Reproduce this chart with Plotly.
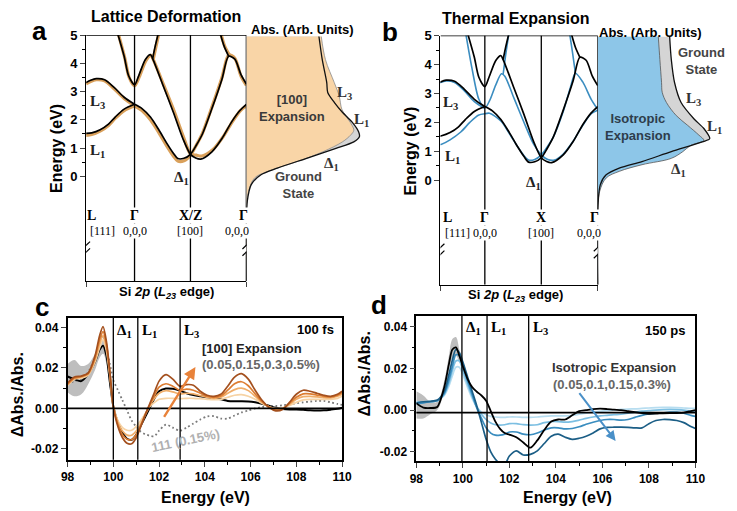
import plotly.graph_objects as go

W, H = 737, 511

def fx(p):
    return p / W

def fy(p):
    return 1 - p / H

# ------------------------------------------------------------------ data
k_points = [0.0, 0.866, 1.866, 2.866]
k_labels_a = ['L', 'Γ', 'X/Z', 'Γ']
k_labels_b = ['L', 'Γ', 'X', 'Γ']
k_sublabels = ['[111]', '0,0,0', '[100]', '0,0,0']

# ground-state conduction bands (black), k in path units, E in eV
gs_L1_k = [0, 0.1, 0.25, 0.4, 0.52, 0.68, 0.866]
gs_L1_E = [1.52, 1.54, 1.65, 1.85, 2.1, 2.38, 2.55]
gs_L3_k = [0, 0.08, 0.18, 0.33, 0.5, 0.68, 0.866]
gs_L3_E = [3.32, 3.4, 3.46, 3.42, 3.15, 2.8, 2.55]
gs_D1_k = [0.866, 1.0, 1.15, 1.3, 1.45, 1.56, 1.64, 1.75, 1.866, 1.97, 2.08, 2.25, 2.43, 2.55, 2.66, 2.77, 2.866]
gs_D1_E = [2.55, 2.4, 2.1, 1.65, 1.15, 0.82, 0.63, 0.64, 0.78, 1.1, 1.5, 2.4, 3.44, 4.25, 4.15, 3.6, 3.27]
gs_V_k = [0.565, 0.68, 0.76, 0.866, 0.94, 1.06, 1.15, 1.19, 1.38, 1.56, 1.73, 1.866, 1.96, 2.05, 2.25, 2.43, 2.6, 2.75, 2.866]
gs_V_E = [5.05, 4.25, 3.56, 3.24, 3.56, 4.14, 4.31, 4.17, 3.2, 2.27, 1.34, 0.78, 0.65, 0.61, 0.87, 1.34, 1.92, 2.33, 2.55]
gs_up1_k = [1.19, 1.235, 1.29]
gs_up1_E = [4.17, 4.6, 5.05]
gs_up2_k = [2.40, 2.47, 2.55]
gs_up2_E = [5.05, 4.6, 4.25]

# [100] expanded lattice bands (orange)
ex_L1_E = [1.45, 1.48, 1.6, 1.8, 2.05, 2.33, 2.5]
ex_L3_E = [3.27, 3.36, 3.42, 3.38, 3.1, 2.76, 2.5]
ex_D1_E = [2.5, 2.33, 2.0, 1.55, 1.05, 0.72, 0.54, 0.55, 0.75, 1.1, 1.52, 2.45, 3.5, 4.3, 4.18, 3.55, 3.22]
ex_V_k = [0.575, 0.69, 0.77, 0.866, 0.95, 1.07, 1.16, 1.2, 1.39, 1.57, 1.74, 1.866, 1.97, 2.07, 2.27, 2.45, 2.62, 2.76, 2.866]
ex_V_E = [5.05, 4.2, 3.5, 3.2, 3.52, 4.1, 4.28, 4.14, 3.22, 2.33, 1.4, 0.8, 0.75, 0.72, 0.95, 1.4, 1.95, 2.33, 2.5]
ex_up1_k = [1.2, 1.25, 1.3]
ex_up1_E = [4.14, 4.6, 5.05]
ex_up2_k = [2.41, 2.48, 2.56]
ex_up2_E = [5.05, 4.6, 4.3]

# isotropic expanded bands (blue)
iso_L1_k = [0, 0.1, 0.25, 0.44, 0.6, 0.75, 0.866]
iso_L1_E = [1.22, 1.25, 1.4, 1.67, 2.0, 2.25, 2.3]
iso_L3_E = [3.3, 3.38, 3.43, 3.38, 3.1, 2.72, 2.48]
iso_D1_k = [0.866, 0.95, 1.15, 1.3, 1.45, 1.56, 1.64, 1.75, 1.866, 1.97, 2.08, 2.25, 2.38, 2.47, 2.6, 2.75, 2.866]
iso_D1_E = [2.3, 2.32, 2.05, 1.62, 1.15, 0.85, 0.7, 0.72, 0.88, 1.15, 1.5, 2.35, 3.2, 3.7, 3.4, 2.8, 2.45]
iso_V_k = [0.53, 0.64, 0.76, 0.866, 0.95, 1.06, 1.16, 1.22, 1.38, 1.56, 1.73, 1.866, 1.98, 2.1, 2.25, 2.43, 2.6, 2.75, 2.866]
iso_V_E = [5.05, 3.85, 2.8, 2.5, 2.75, 3.3, 3.68, 3.6, 2.85, 2.0, 1.25, 0.88, 0.72, 0.7, 0.9, 1.35, 1.9, 2.3, 2.42]
iso_up1_k = [1.19, 1.24, 1.29]
iso_up1_E = [3.66, 4.4, 5.05]
iso_up2_k = [2.37, 2.42, 2.47]
iso_up2_E = [5.05, 4.4, 3.7]

# absorption (arb. units) vs energy
absA_gs_E = [4.95, 4.13, 3.32, 2.97, 2.62, 2.27, 1.92, 1.57, 1.40, 1.22, 0.99, 0.64, 0.29, 0.06, -0.29, -0.87, -1.68, -3.71]
absA_gs = [74.3, 77.7, 82.3, 83.3, 90, 98.3, 108.3, 115, 115.7, 110, 91.7, 61.7, 31.7, 15, 5, 1, 0, 0]
absA_ex_E = [4.95, 4.13, 3.32, 2.85, 2.38, 2.15, 1.80, 1.63, 1.46, 1.22, 0.87, 0.52, 0.17, -0.06, -0.53, -1.23, -3.71]
absA_ex = [76.7, 81, 90, 95, 97.7, 101.7, 108.3, 110, 106.7, 98.3, 78.3, 51.7, 21.7, 8.3, 2.3, 0, 0]
absB_gs_E = [4.96, 4.17, 3.38, 2.69, 2.12, 1.79, 1.44, 1.33, 0.99, 0.65, 0.42, 0.19, -0.15, -0.83, -3.61]
absB_gs = [73.6, 75.3, 78.6, 85.3, 98.6, 108.6, 114.6, 107, 75.3, 45.3, 22, 8.6, 2.6, 0.3, 0]
absB_iso_E = [4.96, 4.17, 3.38, 3.04, 2.69, 2.24, 1.90, 1.56, 1.38, 1.21, 0.99, 0.76, 0.54, 0.31, 0.08, -0.38, -1.06, -3.61]
absB_iso = [62, 63.6, 65.3, 66, 70.3, 80.3, 92, 103.6, 108.6, 95.3, 87, 75.3, 45.3, 22, 8.6, 2, 0, 0]

# transient spectra
energy = [98.0, 98.3, 98.6, 98.9, 99.2, 99.4, 99.55, 99.7, 99.85, 100.0, 100.2, 100.4, 100.6, 100.8,
          101.0, 101.2, 101.4, 101.6, 101.8, 102.0, 102.3, 102.6, 102.9, 103.2, 103.5, 103.8, 104.1,
          104.4, 104.7, 105.0, 105.3, 105.6, 105.9, 106.2, 106.5, 106.8, 107.1, 107.4, 107.7, 108.0,
          108.3, 108.6, 108.9, 109.2, 109.5, 109.8, 110.0]

c_exp_100fs = [0.0158, 0.0145, 0.0135, 0.017, 0.023, 0.029, 0.031, 0.026, 0.013, 0.001, -0.007, -0.012,
               -0.015, -0.0155, -0.013, -0.0085, -0.004, 0.0005, 0.005, 0.0085, 0.0098, 0.0097, 0.0088,
               0.0075, 0.0066, 0.006, 0.0055, 0.005, 0.0045, 0.0037, 0.0035, 0.0035, 0.0034, 0.003, 0.0023,
               0.0013, 0.0003, -0.0003, -0.0005, -0.0005, -0.0007, -0.0009, -0.001, -0.0009, -0.0006,
               -0.0002, 0.0003]
c_err_energy = [98.0, 98.3, 98.6, 98.9, 99.2, 99.4, 99.55, 99.7, 99.85]
c_err_hi = [0.022, 0.024, 0.021, 0.022, 0.027, 0.032, 0.034, 0.029, 0.016]
c_err_lo = [0.008, 0.006, 0.007, 0.012, 0.019, 0.025, 0.027, 0.022, 0.010]
c_x100_005 = [0.0115, 0.0145, 0.015, 0.0165, 0.023, 0.030, 0.034, 0.0285, 0.016, 0.001, -0.006, -0.0095,
              -0.0108, -0.0108, -0.009, -0.006, -0.0025, 0.001, 0.003, 0.0045, 0.005, 0.005, 0.0048,
              0.005, 0.005, 0.0048, 0.0045, 0.0043, 0.0045, 0.0055, 0.0065, 0.0068, 0.006, 0.0045, 0.0025,
              0.0008, 0.0, 0.0003, 0.0015, 0.003, 0.0042, 0.0045, 0.0045, 0.0045, 0.0045, 0.005, 0.006]
c_x100_015 = [0.0118, 0.0148, 0.0155, 0.0168, 0.024, 0.032, 0.036, 0.030, 0.017, 0.001, -0.007, -0.0112,
              -0.0132, -0.0133, -0.0112, -0.0075, -0.003, 0.0015, 0.005, 0.0075, 0.0088, 0.0082, 0.0072,
              0.0075, 0.0072, 0.0063, 0.0055, 0.005, 0.0055, 0.0075, 0.0093, 0.010, 0.0088, 0.006, 0.003,
              0.0008, -0.0005, 0.0, 0.002, 0.0045, 0.0058, 0.006, 0.0057, 0.0053, 0.0052, 0.006, 0.007]
c_x100_030 = [0.012, 0.015, 0.0158, 0.0172, 0.025, 0.034, 0.038, 0.0315, 0.0175, 0.001, -0.008, -0.013,
              -0.0152, -0.0155, -0.013, -0.0085, -0.003, 0.002, 0.0065, 0.0105, 0.0122, 0.011, 0.009,
              0.0095, 0.009, 0.0075, 0.006, 0.0055, 0.0062, 0.009, 0.0122, 0.0132, 0.0112, 0.0072, 0.0035,
              0.0007, -0.0008, -0.0003, 0.0025, 0.0055, 0.0072, 0.0072, 0.0066, 0.006, 0.0057, 0.0065, 0.0078]
c_x100_050 = [0.0125, 0.0155, 0.016, 0.0175, 0.026, 0.036, 0.0405, 0.033, 0.018, 0.001, -0.009, -0.0145,
              -0.0172, -0.0175, -0.0145, -0.009, -0.003, 0.0025, 0.008, 0.0135, 0.0167, 0.0145, 0.011,
              0.0118, 0.0115, 0.0085, 0.0065, 0.006, 0.007, 0.011, 0.0155, 0.0172, 0.0145, 0.009, 0.004,
              0.0005, -0.0012, -0.0005, 0.003, 0.007, 0.009, 0.0085, 0.0075, 0.0065, 0.006, 0.007, 0.0085]
c_x111_015 = [0.012, 0.0135, 0.0145, 0.018, 0.025, 0.033, 0.036, 0.030, 0.022, 0.014, 0.009, 0.004,
              -0.001, -0.006, -0.009, -0.0115, -0.0128, -0.0135, -0.0137, -0.011, -0.008, -0.0095, -0.011,
              -0.0095, -0.0075, -0.0055, -0.004, -0.0038, -0.005, -0.005, -0.0035, -0.002, -0.001, 0.0,
              0.0007, 0.001, 0.0012, 0.0015, 0.002, 0.0026, 0.003, 0.0034, 0.0037, 0.0037, 0.003, 0.0022,
              0.0018]

d_exp_150ps = [0.0033, 0.0012, 0.001, 0.0015, 0.011, 0.022, 0.029, 0.030, 0.026, 0.021, 0.015, 0.011,
               0.0088, 0.007, 0.0045, -0.0005, -0.0055, -0.009, -0.011, -0.0117, -0.013, -0.0155, -0.018,
               -0.0145, -0.0095, -0.0055, -0.0045, -0.0045, -0.0025, -0.0005, 0.0, 0.0005, 0.0007, 0.0005,
               0.0002, 0.0, -0.0005, -0.001, -0.0015, -0.0018, -0.0017, -0.0015, -0.0014, -0.0014, -0.0012,
               -0.0005, 0.0]
d_err_energy = [98.0, 98.3, 98.6, 98.9, 99.2, 99.4, 99.55, 99.7, 99.85, 100.0]
d_err_hi = [0.009, 0.007, 0.004, 0.004, 0.014, 0.026, 0.034, 0.035, 0.029, 0.022]
d_err_lo = [-0.004, -0.004, -0.002, 0.0, 0.009, 0.019, 0.025, 0.026, 0.023, 0.020]
d_iso_005 = [0.004, 0.004, 0.0042, 0.0045, 0.007, 0.0115, 0.0165, 0.0205, 0.0205, 0.017, 0.011, 0.0055,
             0.0015, -0.001, -0.0022, -0.003, -0.0033, -0.0035, -0.0035, -0.0033, -0.0033, -0.0035,
             -0.0035, -0.0033, -0.003, -0.0028, -0.0028, -0.0028, -0.0025, -0.002, -0.0015, -0.001,
             -0.0006, -0.0003, 0.0, 0.0003, 0.0005, 0.0006, 0.0008, 0.001, 0.0012, 0.0013, 0.0013, 0.0012,
             0.001, 0.0008, 0.0008]
d_iso_010 = [0.0035, 0.0038, 0.004, 0.0045, 0.0075, 0.013, 0.019, 0.0235, 0.0235, 0.019, 0.0125, 0.0065,
             0.0015, -0.002, -0.0045, -0.0062, -0.007, -0.0072, -0.007, -0.0065, -0.0065, -0.007, -0.0072,
             -0.007, -0.006, -0.0055, -0.0055, -0.0058, -0.0055, -0.0048, -0.004, -0.0033, -0.0028, -0.0025,
             -0.0022, -0.002, -0.0015, -0.001, -0.0005, -0.0003, 0.0, 0.0002, 0.0003, 0.0002, 0.0, -0.0005,
             -0.001]
d_iso_015 = [0.003, 0.0035, 0.004, 0.0045, 0.008, 0.0145, 0.021, 0.0265, 0.026, 0.021, 0.014, 0.0075,
             0.001, -0.004, -0.0085, -0.011, -0.012, -0.012, -0.0115, -0.0105, -0.0105, -0.0115, -0.0118,
             -0.011, -0.0095, -0.0085, -0.0085, -0.009, -0.0088, -0.008, -0.0068, -0.0058, -0.005, -0.0045,
             -0.0045, -0.0048, -0.0045, -0.0035, -0.0025, -0.0018, -0.0015, -0.0013, -0.001, -0.001, -0.0015,
             -0.0025, -0.003]
d_iso_030 = [0.0035, 0.004, 0.0042, 0.0048, 0.009, 0.017, 0.024, 0.029, 0.0275, 0.023, 0.016, 0.009,
             0.002, -0.006, -0.014, -0.02, -0.0235, -0.0255, -0.026, -0.022, -0.0195, -0.0215, -0.0212,
             -0.0195, -0.016, -0.0125, -0.0115, -0.013, -0.014, -0.0135, -0.0125, -0.011, -0.009, -0.0083,
             -0.0082, -0.0082, -0.0083, -0.0085, -0.0085, -0.0065, -0.005, -0.0045, -0.0046, -0.005, -0.006,
             -0.0078, -0.0088]

c_edges = [100.0, 101.07, 102.92]
d_edges = [99.96, 101.04, 102.83]
edge_labels = ['Δ<sub>1</sub>', 'L<sub>1</sub>', 'L<sub>3</sub>']
x_ticks = [98, 100, 102, 104, 106, 108, 110]
y_ticks = [-0.02, 0.0, 0.02, 0.04]
y_ticktext = ['-0.02', '0.00', '0.02', '0.04']

# ------------------------------------------------------------------ style
SANS = 'Liberation Sans'
SERIF = 'Liberation Serif'
ORANGE_FILL = '#F9D5A7'
BLUE_FILL = '#8DC6E8'
GREY_FILL = '#D5D5D5'
ORANGE_BAND = '#D9A05B'
BLUE_BAND = '#3B8DC0'
oranges = ['#F6D3A5', '#F0AE6A', '#DD7D32', '#A4501E']
blues = ['#B7DDF0', '#7CBFE2', '#3A8DBF', '#1B5E86']

fig = go.Figure()

def line(x, y, xa, ya, color, width, dash='solid', shape='spline', smooth=0.8):
    fig.add_trace(go.Scatter(x=x, y=y, xaxis=xa, yaxis=ya, mode='lines',
                             line=dict(color=color, width=width, dash=dash, shape=shape,
                                       smoothing=smooth if shape == 'spline' else None),
                             showlegend=False, hoverinfo='skip'))

# ---- panel a bands
for kk, ee in [(gs_L1_k, ex_L1_E), (gs_L3_k, ex_L3_E), (gs_D1_k, ex_D1_E), (ex_V_k, ex_V_E),
               (ex_up1_k, ex_up1_E), (ex_up2_k, ex_up2_E)]:
    line(kk, ee, 'x', 'y', ORANGE_BAND, 3.2)
for kk, ee in [(gs_L1_k, gs_L1_E), (gs_L3_k, gs_L3_E), (gs_D1_k, gs_D1_E), (gs_V_k, gs_V_E),
               (gs_up1_k, gs_up1_E), (gs_up2_k, gs_up2_E)]:
    line(kk, ee, 'x', 'y', 'black', 1.7)

# ---- panel a absorption
fig.add_trace(go.Scatter(x=absA_gs, y=absA_gs_E, xaxis='x2', yaxis='y', mode='lines', fill='tozerox',
                         fillcolor=GREY_FILL, line=dict(width=0, shape='spline'), showlegend=False,
                         hoverinfo='skip'))
fig.add_trace(go.Scatter(x=absA_ex, y=absA_ex_E, xaxis='x2', yaxis='y', mode='lines', fill='tozerox',
                         fillcolor=ORANGE_FILL, line=dict(width=0.8, color='#8a8a8a', shape='spline'),
                         showlegend=False, hoverinfo='skip'))
line(absA_gs, absA_gs_E, 'x2', 'y', '#111', 1.3)

# ---- panel b bands
for kk, ee in [(iso_L1_k, iso_L1_E), (gs_L3_k, iso_L3_E), (iso_D1_k, iso_D1_E), (iso_V_k, iso_V_E),
               (iso_up1_k, iso_up1_E), (iso_up2_k, iso_up2_E)]:
    line(kk, ee, 'x3', 'y2', BLUE_BAND, 1.6)
for kk, ee in [(gs_L1_k, gs_L1_E), (gs_L3_k, gs_L3_E), (gs_D1_k, gs_D1_E), (gs_V_k, gs_V_E),
               (gs_up1_k, gs_up1_E), (gs_up2_k, gs_up2_E)]:
    line(kk, ee, 'x3', 'y2', 'black', 1.7)

# ---- panel b absorption
fig.add_trace(go.Scatter(x=absB_gs, y=absB_gs_E, xaxis='x4', yaxis='y2', mode='lines', fill='tozerox',
                         fillcolor=GREY_FILL, line=dict(width=0, shape='spline'), showlegend=False,
                         hoverinfo='skip'))
fig.add_trace(go.Scatter(x=absB_iso, y=absB_iso_E, xaxis='x4', yaxis='y2', mode='lines', fill='tozerox',
                         fillcolor=BLUE_FILL, line=dict(width=0.8, color='#555', shape='spline'),
                         showlegend=False, hoverinfo='skip'))
line(absB_gs, absB_gs_E, 'x4', 'y2', '#111', 1.3)

# ---- panel c
fig.add_trace(go.Scatter(x=c_err_energy + c_err_energy[::-1], y=c_err_hi + c_err_lo[::-1],
                         xaxis='x5', yaxis='y3', mode='lines', fill='toself', fillcolor='#BEBEBE',
                         line=dict(width=0, shape='spline'), showlegend=False, hoverinfo='skip'))
line(energy, c_x111_015, 'x5', 'y3', '#7a7a7a', 1.8, dash='1.8px,2.6px')
line(energy, c_exp_100fs, 'x5', 'y3', 'black', 2.0)
for col, ser in zip(oranges, [c_x100_005, c_x100_015, c_x100_030, c_x100_050]):
    line(energy, ser, 'x5', 'y3', col, 1.7)

# ---- panel d
fig.add_trace(go.Scatter(x=d_err_energy + d_err_energy[::-1], y=d_err_hi + d_err_lo[::-1],
                         xaxis='x6', yaxis='y4', mode='lines', fill='toself', fillcolor='#BEBEBE',
                         line=dict(width=0, shape='spline'), showlegend=False, hoverinfo='skip'))
for col, ser in zip(blues, [d_iso_005, d_iso_010, d_iso_015, d_iso_030]):
    line(energy, ser, 'x6', 'y4', col, 1.7)
line(energy, d_exp_150ps, 'x6', 'y4', 'black', 1.8)

# ------------------------------------------------------------------ axes
A_RANGE = [-3.71, 5]
B_RANGE = [-3.61, 5]
B_KMIN = 0.08
tickfont = dict(family=SANS, size=12, color='black', weight='bold')

def energy_yaxis(domain, rng, anchor):
    return dict(domain=domain, range=rng, anchor=anchor, showline=True, linecolor='black', linewidth=1.3,
                tickvals=[0, 1, 2, 3, 4, 5], ticks='outside', ticklen=5, tickwidth=1.3,
                tickfont=dict(family=SANS, size=13, color='black', weight='bold'),
                minor=dict(tickvals=[0.5, 1.5, 2.5, 3.5, 4.5], ticks='outside', ticklen=3, tickwidth=1.1,
                           tickcolor='black'),
                showgrid=False, zeroline=False, fixedrange=True)

def band_xaxis(domain, rng, anchor):
    return dict(domain=domain, range=rng, anchor=anchor, showline=True, linecolor='black', linewidth=1.3,
                showticklabels=False, tickvals=[rng[0], rng[1]], ticks='outside', ticklen=5, tickwidth=1.3,
                showgrid=False, zeroline=False, fixedrange=True)

def hidden_x(domain, rng, anchor):
    return dict(domain=domain, range=rng, anchor=anchor, visible=False, fixedrange=True)

def spec_x(domain, anchor):
    return dict(domain=domain, range=[98, 110], anchor=anchor, showline=True, mirror=True, linecolor='black',
                linewidth=1.6, tickvals=x_ticks, ticks='outside', ticklen=5, tickwidth=1.4, tickfont=tickfont,
                minor=dict(tickvals=[99, 101, 103, 105, 107, 109], ticks='outside', ticklen=3, tickwidth=1.2,
                           tickcolor='black'),
                showgrid=False, zeroline=False, fixedrange=True)

def spec_y(domain, rng, anchor):
    return dict(domain=domain, range=rng, anchor=anchor, showline=True, mirror=True, linecolor='black',
                linewidth=1.6, tickvals=y_ticks, ticktext=y_ticktext, ticks='outside', ticklen=5, tickwidth=1.4,
                tickfont=tickfont,
                minor=dict(tickvals=[-0.01, 0.01, 0.03], ticks='outside', ticklen=3, tickwidth=1.2,
                           tickcolor='black'),
                showgrid=False, zeroline=False, fixedrange=True)

fig.update_layout(
    width=W, height=H, margin=dict(l=0, r=0, t=0, b=0), paper_bgcolor='white', plot_bgcolor='rgba(0,0,0,0)',
    showlegend=False,
    xaxis=band_xaxis([fx(81), fx(245)], [0, 2.866], 'y'),
    yaxis=energy_yaxis([fy(278), fy(28.5)], A_RANGE, 'x'),
    xaxis2=hidden_x([fx(245), fx(372)], [0, 127], 'y'),
    xaxis3=band_xaxis([fx(443.7), fx(604.7)], [B_KMIN, 2.866], 'y2'),
    yaxis2=energy_yaxis([fy(281.7), fy(29)], B_RANGE, 'x3'),
    xaxis4=hidden_x([fx(604.7), 1.0], [0, 132.3], 'y2'),
    xaxis5=spec_x([fx(62), fx(343)], 'y3'),
    yaxis3=spec_y([fy(459), fy(315)], [-0.02537, 0.04488], 'x5'),
    xaxis6=spec_x([fx(419), fx(704.7)], 'y4'),
    yaxis4=spec_y([fy(460.7), fy(313.3)], [-0.02456, 0.04505], 'x6'),
)

# ------------------------------------------------------------------ shapes
shapes = []
for xa, ya, rng, x0 in [('x', 'y', A_RANGE, 0.0), ('x3', 'y2', B_RANGE, B_KMIN)]:
    for kp in k_points[1:]:
        shapes.append(dict(type='line', xref=xa, yref=ya, x0=kp, x1=kp, y0=rng[0], y1=5,
                           line=dict(color='black', width=1.3)))
    shapes.append(dict(type='line', xref=xa, yref=ya, x0=x0, x1=2.866, y0=5, y1=5,
                       line=dict(color='black', width=1.3)))
# axis breaks
for xa, ya, xs, eb in [('x', 'y', [0.0, 2.866], -2.56), ('x3', 'y2', [B_KMIN, 2.866], -2.44)]:
    for xb in xs:
        shapes.append(dict(type='rect', xref=xa, yref=ya, x0=xb - 0.05, x1=xb + 0.05, y0=eb - 0.1, y1=eb + 0.1,
                           fillcolor='white', line=dict(width=0)))
        for off in (-0.12, 0.12):
            shapes.append(dict(type='line', xref=xa, yref=ya, x0=xb - 0.07, x1=xb + 0.07,
                               y0=eb + off - 0.13, y1=eb + off + 0.13, line=dict(color='black', width=1.2)))
# spectra edge markers and zero lines
for xa, ya, edges, zero in [('x5', 'y3', c_edges, 0.0), ('x6', 'y4', d_edges, -0.0012)]:
    for e in edges:
        shapes.append(dict(type='line', xref=xa, yref=ya + ' domain', x0=e, x1=e, y0=0, y1=1,
                           line=dict(color='black', width=1.3)))
    shapes.append(dict(type='line', xref=xa + ' domain', yref=ya, x0=0, x1=1, y0=zero, y1=zero,
                       line=dict(color='black', width=1.8)))
fig.update_layout(shapes=shapes)

# ------------------------------------------------------------------ annotations
ann = []

def txt(text, x, y, xref='paper', yref='paper', size=13, color='black', family=SANS, bold=True,
        xanchor='center', yanchor='middle', angle=0):
    ann.append(dict(text=text, x=x, y=y, xref=xref, yref=yref, showarrow=False, xanchor=xanchor,
                    yanchor=yanchor, textangle=angle,
                    font=dict(family=family, size=size, color=color, weight='bold' if bold else 'normal')))

# titles and panel letters
txt('Lattice Deformation', fx(163), fy(10), size=16)
txt('Thermal Expansion', fx(521), fy(12), size=16)
txt('a', fx(33), fy(24), size=26)
txt('b', fx(392), fy(25), size=26)
txt('c', fx(36), fy(304), size=26)
txt('d', fx(381), fy(302), size=26)
txt('Energy (eV)', fx(50), fy(143), size=16, angle=-90)
txt('Energy (eV)', fx(413), fy(146), size=16, angle=-90)
txt('Abs. (Arb. Units)', fx(302), fy(23), size=13)
txt('Abs. (Arb. Units)', fx(659), fy(26), size=13)
txt('Si <i>2p</i> (<i>L<sub>23</sub></i> edge)', fx(163), fy(289), size=13)
txt('Si <i>2p</i> (<i>L<sub>23</sub></i> edge)', fx(521), fy(293), size=13)

# k-point labels (white boxes interrupt the vertical guide lines, as in the original)
for xa, ya, labs, kstart, e1, e2, shifts, subshift in [
        ('x', 'y', k_labels_a, 0.0, -1.37, -1.93, [5, 0, 0, -3], [16, 0, 0, -9]),
        ('x3', 'y2', k_labels_b, B_KMIN, -1.27, -1.83, [7, 0, 0, -3], [17, 0, 0, -9])]:
    kpos = [kstart] + k_points[1:]
    for kp, lab, sub, s1, s2 in zip(kpos, labs, k_sublabels, shifts, subshift):
        ann.append(dict(text=lab, x=kp, y=e1, xref=xa, yref=ya, showarrow=False, xshift=s1,
                        bgcolor='white', borderpad=0,
                        font=dict(family=SERIF, size=14, color='black', weight='bold')))
        ann.append(dict(text=sub, x=kp, y=e2, xref=xa, yref=ya, showarrow=False, xshift=s2,
                        bgcolor='white', borderpad=0,
                        font=dict(family=SERIF, size=12, color='black')))

# band labels
txt('L<sub>3</sub>', 0.21, 2.64, 'x', 'y', size=15, family=SERIF, color='#222')
txt('L<sub>1</sub>', 0.21, 0.9, 'x', 'y', size=15, family=SERIF, color='#222')
txt('Δ<sub>1</sub>', 1.70, -0.05, 'x', 'y', size=15, family=SERIF, color='#222')
txt('L<sub>3</sub>', 0.26, 2.68, 'x3', 'y2', size=15, family=SERIF, color='#222')
txt('L<sub>1</sub>', 0.30, 0.81, 'x3', 'y2', size=15, family=SERIF, color='#222')
txt('Δ<sub>1</sub>', 1.73, -0.08, 'x3', 'y2', size=15, family=SERIF, color='#222')

# absorption panel labels
txt('[100]<br>Expansion', 11, 2.42, 'x2', 'y', size=13, color='#3a3a3a', xanchor='left')
txt('L<sub>3</sub>', 100, 2.95, 'x2', 'y', size=15, family=SERIF, color='#333')
txt('L<sub>1</sub>', 118, 1.98, 'x2', 'y', size=15, family=SERIF, color='#333')
txt('Δ<sub>1</sub>', 87, 0.45, 'x2', 'y', size=15, family=SERIF, color='#333')
txt('Ground<br>State', 27, -0.32, 'x2', 'y', size=13, color='#444', xanchor='left')
txt('Isotropic<br>Expansion', 5, 1.85, 'x4', 'y2', size=13, color='#2E3D4C', xanchor='left')
txt('Ground<br>State', 80, 4.12, 'x4', 'y2', size=13, color='#444', xanchor='left')
txt('L<sub>3</sub>', 98, 2.82, 'x4', 'y2', size=15, family=SERIF, color='#333')
txt('L<sub>1</sub>', 120, 1.83, 'x4', 'y2', size=15, family=SERIF, color='#333')
txt('Δ<sub>1</sub>', 83, 0.36, 'x4', 'y2', size=15, family=SERIF, color='#333')

# spectra labels
for xa, ya, edges, ytop in [('x5', 'y3', c_edges, 0.0385), ('x6', 'y4', d_edges, 0.0395)]:
    for e, lab in zip(edges, edge_labels):
        ann.append(dict(text=lab, x=e, y=ytop, xref=xa, yref=ya, showarrow=False, xanchor='left', xshift=2,
                        font=dict(family=SERIF, size=15, color='black', weight='bold')))
txt('ΔAbs./Abs.', fx(11), fy(393), size=16, angle=-90)
txt('ΔAbs./Abs.', fx(366), fy(372), size=16, angle=-90)
txt('Energy (eV)', fx(203), fy(497), size=16)
txt('Energy (eV)', fx(574), fy(497), size=16)
txt('100 fs', 109.74, 0.039, 'x5', 'y3', size=13, xanchor='right')
txt('[100] Expansion', 103.81, 0.0298, 'x5', 'y3', size=13, color='#222', xanchor='left')
txt('(0.05,0.15,0.3,0.5%)', 103.81, 0.0215, 'x5', 'y3', size=13, color='#666', xanchor='left')
txt('111 (0.15%)', 103.17, -0.0161, 'x5', 'y3', size=13, color='#B0B0B0', angle=-12)
txt('150 ps', 109.63, 0.0381, 'x6', 'y4', size=13, xanchor='right')
txt('Isotropic Expansion', 106.48, 0.0206, 'x6', 'y4', size=13, color='#333')
txt('(0.05,0.1,0.15,0.3%)', 106.4, 0.0121, 'x6', 'y4', size=13, color='#666')

# arrows
ann.append(dict(x=103.59, y=0.0205, ax=102.18, ay=-0.0049, xref='x5', yref='y3', axref='x5', ayref='y3',
                text='', showarrow=True, arrowhead=2, arrowsize=1, arrowwidth=2.4, arrowcolor='#E8823A'))
ann.append(dict(x=106.57, y=-0.0148, ax=104.96, ay=0.0088, xref='x6', yref='y4', axref='x6', ayref='y4',
                text='', showarrow=True, arrowhead=2, arrowsize=1, arrowwidth=2.0, arrowcolor='#4A90C8'))

fig.update_layout(annotations=ann)
fig.write_html('out.html', config={'displayModeBar': False},
               post_script="document.body.style.margin='0';document.body.style.overflow='hidden';")
